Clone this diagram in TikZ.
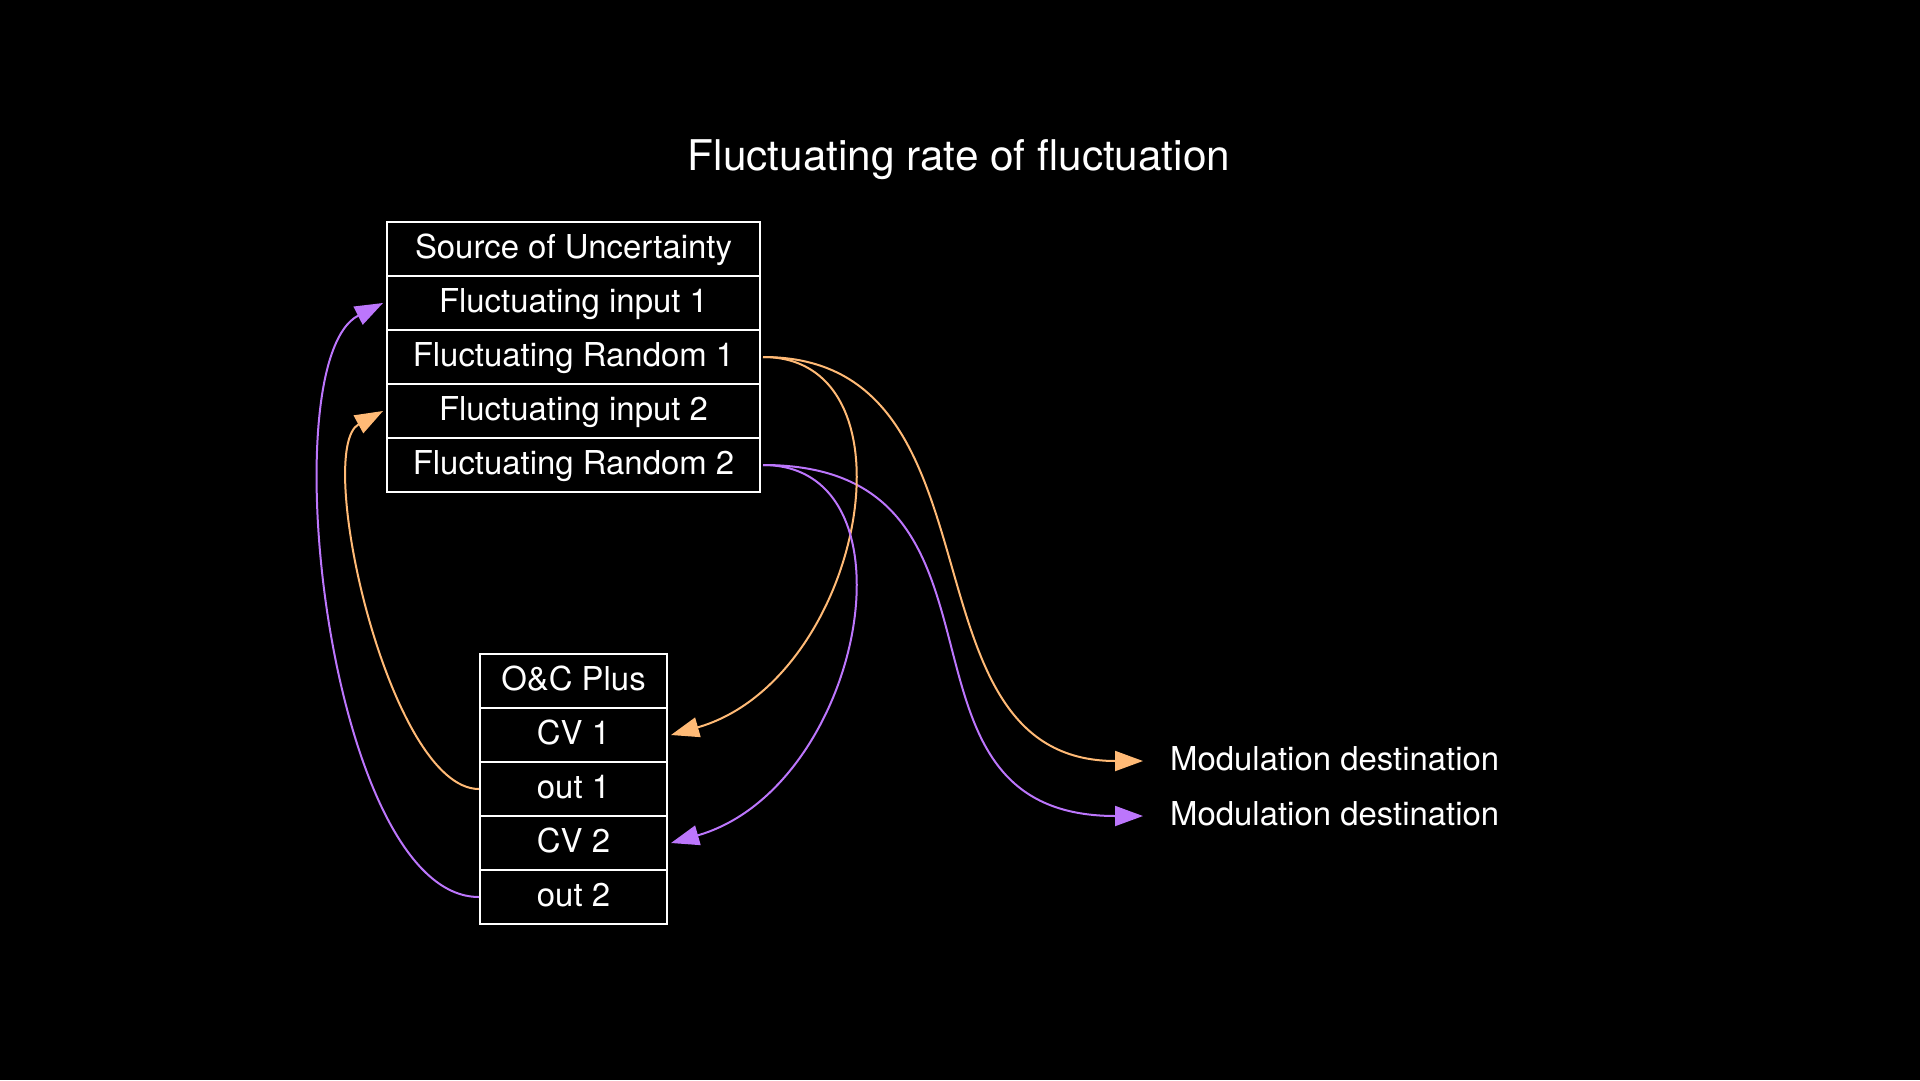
\documentclass[tikz,border=0pt]{standalone}
\usepackage{fontspec}
\setmainfont{TeX Gyre Heros}
\usetikzlibrary{arrows.meta}
\definecolor{ora}{RGB}{255,186,118}
\definecolor{pur}{RGB}{188,118,252}
\begin{document}
\begin{tikzpicture}[x=1pt,y=-1pt,
  txt/.style={text=white, font=\fontsize{32.9}{39}\selectfont, text height=23.5pt, text depth=5pt},
  cell/.style={txt, draw=white, line width=2pt, rectangle, inner sep=0pt, minimum height=54pt},
  srow/.style={cell, minimum width=373pt},
  crow/.style={cell, minimum width=187pt},
  lbl/.style={txt, inner sep=0pt, anchor=west},
  link/.style={line width=2pt, -{Triangle[length=28pt,width=20pt]}},
]
\fill[black] (0,0) rectangle (1920,1080);
\useasboundingbox (0,0) rectangle (1920,1080);

\node[text=white, font=\fontsize{42.3}{50}\selectfont, anchor=base, inner sep=0pt] (title) at (959,170) {Fluctuating rate of fluctuation};

% Source of Uncertainty
\node[srow] (s0) at (573.5,249) {Source of Uncertainty};
\node[srow] (s1) at (573.5,303) {Fluctuating input 1};
\node[srow] (s2) at (573.5,357) {Fluctuating Random 1};
\node[srow] (s3) at (573.5,411) {Fluctuating input 2};
\node[srow] (s4) at (573.5,465) {Fluctuating Random 2};

% O&C Plus
\node[crow] (c0) at (573.5,681) {O\&C Plus};
\node[crow] (c1) at (573.5,735) {CV 1};
\node[crow] (c2) at (573.5,789) {out 1};
\node[crow] (c3) at (573.5,843) {CV 2};
\node[crow] (c4) at (573.5,897) {out 2};

% destinations
\node[lbl] (m1) at (1170,761) {Modulation destination};
\node[lbl] (m2) at (1170,816) {Modulation destination};

% connectors
\draw[link, ora] ([xshift=2pt]s2.east) .. controls +(250,0) and +(-250,0) .. ([xshift=-27pt]m1.west);
\draw[link, pur] ([xshift=2pt]s4.east) .. controls +(275,0) and +(-275,0) .. ([xshift=-27pt]m2.west);
\draw[link, ora] ([xshift=2pt]s2.east) .. controls +(160,0) and +(192,-55) .. ([xshift=3pt]c1.east);
\draw[link, pur] ([xshift=2pt]s4.east) .. controls +(160,0) and +(192,-55) .. ([xshift=3pt]c3.east);
\draw[link, ora] (c2.west) .. controls +(-90,0) and +(-70,38) .. ([xshift=-3pt]s3.west);
\draw[link, pur] (c4.west) .. controls +(-150,0) and +(-114,58) .. ([xshift=-3pt]s1.west);
\end{tikzpicture}
\end{document}
